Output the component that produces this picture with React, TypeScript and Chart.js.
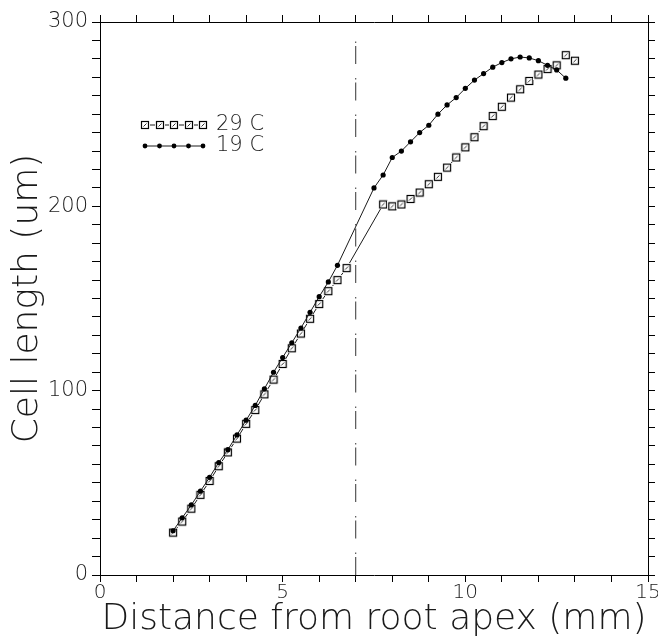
import React, { useEffect, useRef } from 'react';
import { Chart, registerables } from 'chart.js';

Chart.register(...registerables);

// ---- data ----
const x29 = [2.0, 2.25, 2.5, 2.75, 3.0, 3.25, 3.5, 3.75, 4.0, 4.25, 4.5, 4.75, 5.0, 5.25, 5.5, 5.75, 6.0, 6.25, 6.5, 6.75,
  7.75, 8.0, 8.25, 8.5, 8.75, 9.0, 9.25, 9.5, 9.75, 10.0, 10.25, 10.5, 10.75, 11.0, 11.25, 11.5, 11.75, 12.0, 12.25, 12.5, 12.75, 13.0];
const y29 = [23, 29, 36, 43.5, 51, 59, 66.5, 74, 82, 89.5, 98, 106, 114.5, 123, 131, 139, 147, 154, 160, 166.5,
  201, 200, 201, 204, 207.5, 212, 216, 221, 226.5, 232, 237.5, 243.5, 249, 254, 259, 263.5, 268, 271.5, 274.5, 276.5, 282, 279];

const x19 = [2.0, 2.25, 2.5, 2.75, 3.0, 3.25, 3.5, 3.75, 4.0, 4.25, 4.5, 4.75, 5.0, 5.25, 5.5, 5.75, 6.0, 6.25, 6.5,
  7.5, 7.75, 8.0, 8.25, 8.5, 8.75, 9.0, 9.25, 9.5, 9.75, 10.0, 10.25, 10.5, 10.75, 11.0, 11.25, 11.5, 11.75, 12.0, 12.25, 12.5, 12.75];
const y19 = [24, 31, 38, 45.5, 53, 61, 68, 76, 84, 92, 101, 110, 118, 126, 134, 142.5, 151, 159, 168,
  210, 217, 226.5, 230, 235, 240, 244, 250, 255, 259, 264, 268.5, 272, 275.5, 278, 280, 281, 280.5, 279, 276.5, 274, 269.5];

const markerX = [7, 7];
const markerY = [0, 290];

const xTickLabels = [0, 5, 10, 15];
const yTickLabels = [0, 100, 200, 300];
const seriesNames = ['29 C', '19 C'];
const xTitle = 'Distance from root apex (mm)';
const yTitle = 'Cell length (um)';

const FONT = '"DejaVu Sans", sans-serif';
const INK = '#1a1a1a';

function makeSquare(): HTMLCanvasElement {
  const c = document.createElement('canvas');
  c.width = 10;
  c.height = 10;
  const g = c.getContext('2d')!;
  g.fillStyle = '#fff';
  g.fillRect(0, 0, 10, 10);
  g.strokeStyle = '#000';
  g.lineWidth = 1.2;
  g.strokeRect(1.5, 1.5, 7, 7);
  g.strokeStyle = '#333';
  g.lineWidth = 1;
  g.beginPath();
  g.moveTo(3.5, 6.5);
  g.lineTo(6.5, 3.5);
  g.stroke();
  return c;
}

export default function App() {
  const ref = useRef<HTMLCanvasElement>(null);

  useEffect(() => {
    const square = makeSquare();
    const pts = (xs: number[], ys: number[]) => xs.map((x, i) => ({ x, y: ys[i] }));

    const legendPlugin = {
      id: 'customLegend',
      afterDraw(chart: any) {
        const ctx = chart.ctx as CanvasRenderingContext2D;
        const x0 = 145;
        const x1 = 203;
        const rows = [125, 146];
        ctx.save();
        rows.forEach((y, i) => {
          ctx.strokeStyle = INK;
          ctx.lineWidth = 1;
          ctx.beginPath();
          ctx.moveTo(x0, y);
          ctx.lineTo(x1, y);
          ctx.stroke();
          for (let k = 0; k < 5; k++) {
            const px = x0 + ((x1 - x0) * k) / 4;
            if (i === 0) {
              ctx.drawImage(square, Math.round(px - 5), Math.round(y - 5));
            } else {
              ctx.fillStyle = '#000';
              ctx.beginPath();
              ctx.arc(px, y, 2.4, 0, Math.PI * 2);
              ctx.fill();
            }
          }
          ctx.fillStyle = INK;
          ctx.font = `200 21px ${FONT}`;
          ctx.textBaseline = 'middle';
          ctx.textAlign = 'left';
          ctx.fillText(seriesNames[i], 216, y);
        });
        ctx.restore();
      },
    };

    const chart = new Chart(ref.current!, {
      type: 'scatter',
      data: {
        datasets: [
          {
            label: 'marker',
            data: pts(markerX, markerY),
            showLine: true,
            borderColor: '#333',
            borderWidth: 1,
            borderDash: [18, 3, 1.5, 14],
            pointRadius: 0,
          },
          {
            label: seriesNames[1],
            data: pts(x19, y19),
            showLine: true,
            borderColor: INK,
            borderWidth: 1,
            pointStyle: 'circle',
            pointRadius: 2.6,
            backgroundColor: '#000',
            pointBorderWidth: 0,
          },
          {
            label: seriesNames[0],
            data: pts(x29, y29),
            showLine: true,
            borderColor: INK,
            borderWidth: 1,
            pointStyle: square as any,
            pointRadius: 5,
          },
        ],
      },
      options: {
        responsive: false,
        animation: false,
        events: [],
        layout: { padding: 0 },
        plugins: { legend: { display: false }, tooltip: { enabled: false } },
        scales: {
          x: {
            type: 'linear',
            position: 'bottom',
            min: 0,
            max: 15,
            border: { display: true, color: '#000', width: 1 },
            grid: { drawOnChartArea: false, drawTicks: true, tickLength: 7, color: '#000' },
            ticks: {
              stepSize: 1,
              autoSkip: false,
              maxRotation: 0,
              padding: 0,
              color: INK,
              font: { family: FONT, size: 20, weight: 200 as any, lineHeight: 1.1 },
              callback: (v: any) => (xTickLabels.includes(Number(v)) ? String(v) : ''),
            },
            title: {
              display: true,
              text: xTitle,
              color: INK,
              font: { family: FONT, size: 36, weight: 200 as any, lineHeight: 1.0 },
              padding: { top: 0, bottom: 0 },
            },
            afterFit: (s: any) => {
              s.height = 63;
              s.paddingLeft = 0;
              s.paddingRight = 0;
            },
          },
          x2: {
            type: 'linear',
            position: 'top',
            min: 0,
            max: 15,
            border: { display: true, color: '#000', width: 1 },
            grid: { drawOnChartArea: false, drawTicks: true, tickLength: 7, color: '#000' },
            ticks: { display: false, stepSize: 1 },
            afterFit: (s: any) => {
              s.height = 22;
              s.paddingLeft = 0;
              s.paddingRight = 0;
            },
          },
          y: {
            type: 'linear',
            position: 'left',
            min: 0,
            max: 300,
            border: { display: true, color: '#000', width: 1 },
            grid: { drawOnChartArea: false, drawTicks: true, tickLength: 8, color: '#000' },
            ticks: {
              stepSize: 10,
              autoSkip: false,
              padding: 4,
              color: INK,
              font: { family: FONT, size: 21, weight: 200 as any },
              callback: (v: any) => (yTickLabels.includes(Number(v)) ? String(v) : ''),
            },
            title: {
              display: true,
              text: yTitle,
              color: INK,
              font: { family: FONT, size: 36, weight: 200 as any, lineHeight: 1.1 },
              padding: { top: 8, bottom: 0 },
            },
            afterFit: (s: any) => {
              s.width = 100;
              s.paddingTop = 0;
              s.paddingBottom = 0;
            },
          },
          y2: {
            type: 'linear',
            position: 'right',
            min: 0,
            max: 300,
            border: { display: true, color: '#000', width: 1 },
            grid: { drawOnChartArea: false, drawTicks: true, tickLength: 7, color: '#000' },
            ticks: { display: false, stepSize: 10 },
            afterFit: (s: any) => {
              s.width = 10;
              s.paddingTop = 0;
              s.paddingBottom = 0;
            },
          },
        },
      } as any,
      plugins: [legendPlugin],
    });

    return () => chart.destroy();
  }, []);

  return (
    <div style={{ position: 'absolute', left: 0, top: 0, width: 658, height: 638, background: '#fff' }}>
      <canvas ref={ref} width={658} height={638} style={{ display: 'block' }} />
    </div>
  );
}
